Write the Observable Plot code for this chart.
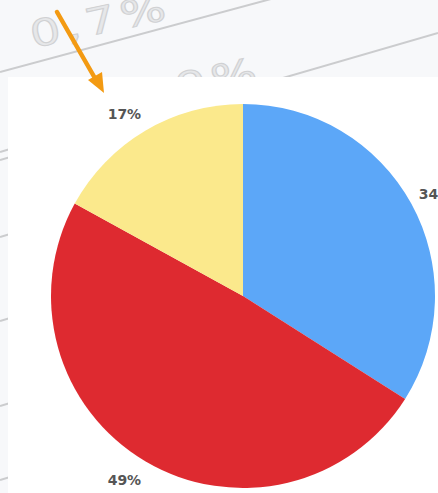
<!DOCTYPE html>
<html>
<head>
<meta charset="utf-8">
<script src="https://cdn.jsdelivr.net/npm/d3@7"></script>
<script src="https://cdn.jsdelivr.net/npm/@observablehq/plot@0.6"></script>
<style>
  html, body { margin: 0; padding: 0; background: #f7f8fa; }
  #wrap { position: relative; width: 438px; height: 493px; overflow: hidden; background: #f7f8fa; font-family: "DejaVu Sans", sans-serif; }
  #bg, #fg { position: absolute; left: 0; top: 0; }
  #panel { position: absolute; left: 8px; top: 77px; width: 430px; height: 416px; background: #ffffff; }
  #chart { position: absolute; left: 0; top: 0; }
</style>
</head>
<body>
<div id="wrap">
  <svg id="bg" width="438" height="493">
    <g stroke="#cbccce" stroke-width="2" fill="none">
      <line x1="0" y1="72" x2="438" y2="-46"/>
      <line x1="0" y1="160" x2="438" y2="33"/>
      <line x1="0" y1="152" x2="20" y2="146"/>
      <line x1="0" y1="237" x2="20" y2="231"/>
      <line x1="0" y1="321" x2="20" y2="315"/>
      <line x1="0" y1="406" x2="20" y2="400"/>
      <line x1="0" y1="480" x2="20" y2="474"/>
    </g>
    <g font-family="DejaVu Sans, sans-serif" font-size="37" letter-spacing="4" fill="#e6e7e9" stroke="#d0d1d3" stroke-width="1">
      <text transform="translate(33,48) rotate(-12) scale(1.3,1)">0,7%</text>
      <text transform="translate(124,112) rotate(-12) scale(1.3,1)">4,9%</text>
    </g>
  </svg>
  <div id="panel"></div>
  <div id="chart"></div>
  <svg id="fg" width="438" height="493">
    <line x1="57" y1="12" x2="96" y2="80" stroke="#f39a12" stroke-width="4.5" stroke-linecap="round"/>
    <path d="M104,93 L88,80 L102,72 Z" fill="#f39a12"/>
  </svg>
</div>
<script>
// Data
const segments = ["A", "B", "C"];
const shares = [34, 49, 17];
const labels = ["34%", "49%", "17%"];

const palette = ["#5ca7f8", "#de2a30", "#fbe98c"];

const W = 438, H = 493;
const cx = 243, cy = 296, R = 192;
const RXL = 234, RXR = 219, RY = 213; // label distance (left, right, vertical)

const data = segments.map((s, i) => ({segment: s, share: shares[i], label: labels[i]}));
const pie = d3.pie().value(d => d.share).sort(null).startAngle(0)(data);
const arc = d3.arc().innerRadius(0).outerRadius(R);
const color = d3.scaleOrdinal(segments, palette);

const labelData = pie.map(p => {
  const a = (p.startAngle + p.endAngle) / 2;
  const s = Math.sin(a);
  return {x: cx + (s < 0 ? RXL : RXR) * s, y: cy - RY * Math.cos(a), label: p.data.label};
});

const pieMark = () => {
  const g = d3.create("svg:g").attr("transform", `translate(${cx},${cy})`);
  g.selectAll("path")
    .data(pie)
    .join("path")
    .attr("d", arc)
    .attr("fill", d => color(d.data.segment));
  return g.node();
};

const chart = Plot.plot({
  width: W,
  height: H,
  margin: 0,
  x: {type: "identity", axis: null},
  y: {type: "identity", axis: null},
  style: {background: "transparent", overflow: "hidden"},
  marks: [
    pieMark,
    Plot.text(labelData, {
      x: "x", y: "y", text: "label",
      dy: 1,
      fill: "#555555",
      fontSize: 14,
      fontWeight: "bold",
      fontFamily: "DejaVu Sans, sans-serif",
      textAnchor: "middle"
    })
  ]
});
document.getElementById("chart").appendChild(chart);
</script>
</body>
</html>
